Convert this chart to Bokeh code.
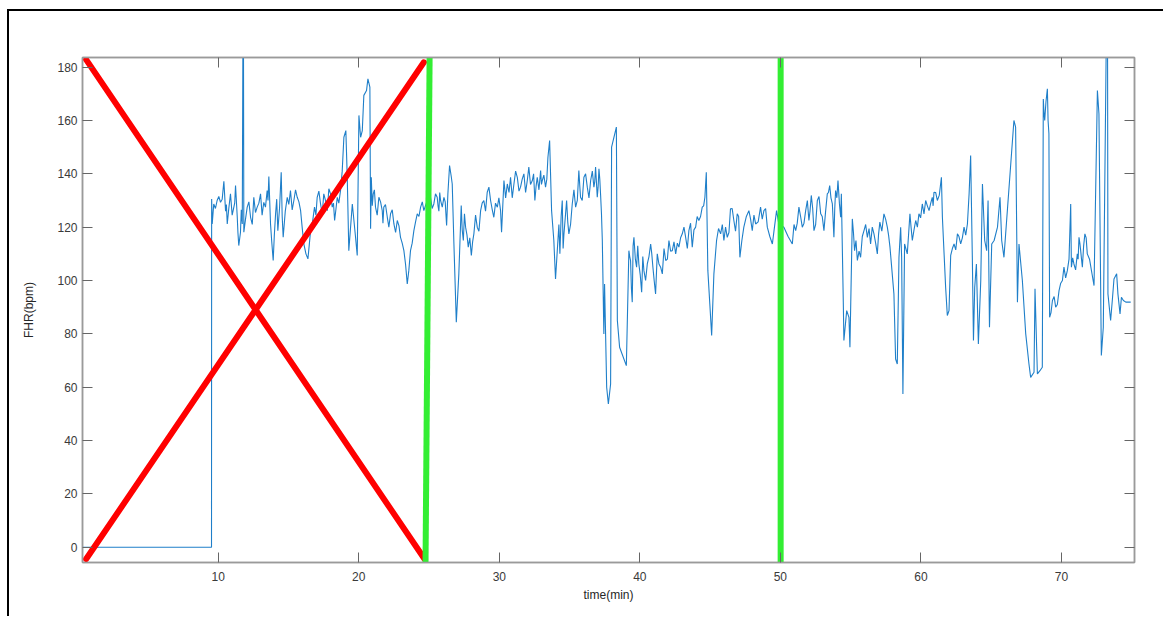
from bokeh.plotting import figure
from bokeh.layouts import column
from bokeh.models import LinearAxis, FixedTicker, Range1d
from bokeh.embed import file_html
from bokeh.resources import INLINE

# ---- data ----
# main turning points of the FHR trace
t_main = [0.35, 9.52, 9.53, 9.57, 9.68, 9.92, 10.16, 10.40, 10.52, 10.64, 10.87, 11.11, 11.23, 11.35, 11.46,
          11.58, 11.71, 11.78, 11.82, 12.06, 12.30, 12.53, 12.77, 13.01, 13.24, 13.48, 13.60, 13.72, 13.91,
          14.08, 14.24, 14.48, 14.62, 14.91, 15.14, 15.38, 15.62, 15.86, 16.09, 16.38, 16.57, 16.85, 17.04,
          17.28, 17.51, 17.76, 17.87, 18.11, 18.28, 18.47, 18.70, 18.94, 19.08, 19.18, 19.29, 19.54, 19.77,
          19.89, 20.01, 20.13, 20.25, 20.36, 20.55, 20.65, 20.79, 20.84, 20.89, 21.03, 21.19, 21.43, 21.67,
          21.78, 22.03, 22.26, 22.50, 22.74, 22.97, 23.21, 23.45, 23.56, 23.68, 23.92, 24.16, 24.40, 24.63,
          24.87, 25.11, 25.34, 25.58, 25.70, 25.82, 26.06, 26.25, 26.34, 26.46, 26.58, 26.65, 26.77, 26.94,
          27.12, 27.29, 27.44, 27.60, 27.79, 28.01, 28.19, 28.43, 28.67, 28.90, 29.14, 29.38, 29.61, 29.86,
          30.09, 30.16, 30.33, 30.57, 30.80, 31.04, 31.28, 31.51, 31.75, 31.99, 32.10, 32.35, 32.53, 32.70,
          32.94, 33.06, 33.29, 33.46, 33.58, 33.72, 33.88, 34.00, 34.17, 34.31, 34.48, 34.60, 34.79, 34.95,
          35.19, 35.43, 35.66, 35.78, 36.02, 36.26, 36.50, 36.73, 36.85, 36.97, 37.09, 37.21, 37.33, 37.44,
          37.49, 37.64, 37.76, 37.92, 37.99, 38.33, 38.40, 38.56, 39.04, 39.22, 39.34, 39.46, 39.58, 39.77,
          39.93, 40.13, 40.29, 40.53, 40.77, 40.93, 41.12, 41.36, 41.60, 41.84, 42.07, 42.31, 42.55, 42.78,
          43.02, 43.26, 43.49, 43.73, 43.97, 44.20, 44.44, 44.63, 44.73, 44.84, 44.98, 45.11, 45.27, 45.46,
          45.75, 45.98, 46.22, 46.45, 46.69, 46.93, 47.12, 47.40, 47.76, 48.00, 48.24, 48.59, 48.83, 49.07,
          49.43, 49.73, 49.89, 50.25, 50.85, 51.09, 51.32, 51.56, 51.80, 52.03, 52.20, 52.39, 52.63, 52.87,
          53.10, 53.34, 53.51, 53.70, 53.81, 53.93, 54.10, 54.29, 54.34, 54.48, 54.52, 54.72, 54.88, 54.95,
          55.12, 55.28, 55.48, 55.71, 55.95, 56.19, 56.42, 56.66, 56.90, 57.08, 57.37, 57.61, 57.80, 58.08,
          58.20, 58.32, 58.44, 58.56, 58.63, 58.72, 58.84, 59.03, 59.22, 59.39, 59.63, 59.86, 60.10, 60.34,
          60.58, 60.81, 60.93, 61.17, 61.46, 61.53, 61.76, 61.88, 62.00, 62.12, 62.36, 62.60, 62.83, 63.07,
          63.31, 63.43, 63.54, 63.66, 63.74, 63.83, 63.95, 64.09, 64.26, 64.38, 64.54, 64.68, 64.78, 64.88,
          65.04, 65.21, 65.45, 65.63, 65.75, 65.91, 66.62, 66.74, 66.87, 66.98, 67.22, 67.46, 67.69, 67.81,
          68.05, 68.12, 68.29, 68.47, 68.64, 68.71, 68.81, 69.00, 69.11, 69.16, 69.36, 69.59, 69.83, 70.07,
          70.18, 70.42, 70.66, 70.71, 70.89, 71.13, 71.25, 71.37, 71.49, 71.67, 71.84, 72.32, 72.56, 72.67,
          72.84, 72.98, 73.27, 73.31, 73.50, 73.62, 73.74, 73.93, 74.02, 74.17, 74.27, 74.41, 74.58, 74.93]

fhr_main = [0, 0, 130.6, 121.2, 128.7, 130.0, 129.3, 137.2, 126.0, 121.2, 132.5, 127.5, 135.6, 124.0, 113.1,
            118.0, 121.2, 230.0, 118.1, 127.5, 123.7, 131.2, 127.5, 132.5, 129.3, 133.7, 139.0, 121.2, 107.5,
            125.0, 118.7, 140.6, 116.2, 131.2, 133.7, 130.0, 131.2, 126.2, 113.7, 108.1, 118.7, 127.5, 131.2,
            128.7, 132.5, 126.2, 134.4, 127.5, 122.5, 131.2, 133.7, 153.7, 156.2, 138.7, 111.2, 128.7, 116.2,
            109.4, 161.9, 153.7, 156.2, 169.4, 171.2, 175.6, 172.5, 119.4, 138.7, 132.5, 127.5, 131.2, 126.2,
            127.5, 123.7, 125.0, 121.2, 122.5, 116.2, 111.2, 98.7, 103.7, 111.2, 118.7, 125.0, 127.5, 126.2,
            130.0, 131.2, 128.7, 131.2, 126.0, 130.0, 131.2, 120.6, 132.5, 143.1, 139.0, 136.2, 113.7, 84.4,
            102.5, 128.1, 115.0, 120.0, 112.5, 109.4, 117.5, 120.0, 126.2, 130.0, 133.1, 130.0, 123.7, 127.5,
            126.2, 118.1, 137.5, 136.2, 138.7, 136.2, 138.7, 135.0, 140.0, 137.5, 142.5, 137.5, 130.0, 138.7,
            141.2, 137.5, 135.0, 146.2, 152.5, 126.2, 115.0, 100.6, 115.0, 110.0, 130.0, 117.5, 130.0, 117.5,
            128.7, 127.5, 141.2, 131.2, 138.7, 135.0, 137.5, 135.0, 142.5, 131.2, 141.9, 131.9, 115.0, 80.0,
            98.7, 60.0, 53.7, 61.2, 150.0, 157.5, 85.0, 75.0, 68.1, 111.2, 107.5, 91.9, 116.2, 105.0,
            106.2, 95.6, 103.7, 106.2, 113.7, 105.0, 95.0, 106.2, 102.5, 107.5, 115.0, 111.2, 110.0, 112.5,
            117.5, 116.2, 118.7, 112.5, 120.0, 122.5, 127.5, 131.2, 140.6, 103.7, 91.2, 79.4, 102.5, 115.0,
            117.5, 115.0, 116.2, 126.9, 122.5, 125.0, 108.7, 120.0, 126.2, 118.7, 121.2, 127.5, 126.2, 120.0,
            113.7, 126.2, 121.2, 120.0, 113.7, 118.7, 127.5, 120.0, 126.2, 122.5, 131.9, 118.7, 130.0, 125.0,
            118.7, 132.5, 135.6, 128.7, 116.2, 133.7, 137.5, 123.7, 132.5, 91.2, 77.5, 88.7, 86.2, 75.0,
            123.1, 111.2, 107.5, 108.7, 118.7, 116.2, 113.7, 117.5, 110.0, 121.9, 125.0, 120.0, 112.5, 95.0,
            70.6, 68.7, 108.7, 120.0, 108.7, 57.5, 113.7, 110.0, 125.0, 115.0, 122.5, 125.0, 128.7, 130.0,
            126.2, 131.2, 133.1, 130.0, 138.7, 123.7, 97.5, 86.9, 88.7, 109.4, 113.7, 117.5, 113.7, 120.0,
            121.2, 132.5, 146.9, 108.7, 77.5, 97.5, 106.2, 76.2, 100.0, 136.2, 115.0, 111.2, 130.0, 82.5,
            113.7, 115.0, 120.0, 131.2, 115.0, 108.7, 160.0, 157.5, 91.9, 113.7, 100.0, 80.0, 68.7, 63.7,
            65.6, 96.9, 65.0, 66.2, 67.5, 168.0, 160.0, 171.9, 155.0, 86.2, 92.5, 90.0, 96.2, 100.0,
            105.0, 103.7, 128.7, 105.0, 106.2, 110.0, 116.2, 111.2, 105.0, 117.5, 110.0, 98.1, 171.2, 162.5,
            71.9, 82.5, 230.0, 95.0, 85.0, 92.5, 100.6, 102.5, 95.0, 87.5, 93.7, 92.5, 91.9, 91.9]

# extra beat-to-beat jitter readings in the noisy stretches
t_detail = [9.80, 10.04, 10.28, 10.58, 10.75, 10.99, 11.17, 11.40, 11.64,
            11.94, 12.18, 12.42, 12.65, 12.89, 13.12, 13.36, 13.54, 13.80, 13.99, 14.16, 14.36, 14.55, 14.77,
            15.02, 15.26, 15.50, 15.74, 15.97,
            16.24, 16.47, 16.71, 16.95, 17.16, 17.40, 17.63, 17.99, 18.20, 18.38, 18.58, 18.82,
            20.96, 21.11, 21.31, 21.55, 21.72, 21.90, 22.14, 22.38, 22.62, 22.86, 23.09, 23.33, 23.80, 24.04,
            24.28, 24.52,
            24.99, 25.22, 25.46, 25.64, 25.76, 25.94, 26.15,
            27.36, 27.52, 27.70, 27.90, 28.10, 28.31, 28.55, 28.78, 29.02, 29.26, 29.50, 29.73, 29.97,
            30.45, 30.69, 30.92, 31.16, 31.40, 31.63, 31.87, 32.22, 32.44, 32.62, 32.82, 33.00, 33.17, 33.38,
            34.24, 34.40, 34.54, 34.70, 34.87, 35.07, 35.31, 35.55, 35.72, 35.90, 36.14, 36.38, 36.62, 36.79,
            36.91, 37.03, 37.15, 37.27,
            39.28, 39.40, 39.52, 39.68, 39.85, 40.03, 40.21, 40.41, 40.65, 40.85, 41.02, 41.24, 41.48, 41.72,
            41.96, 42.19, 42.43, 42.67, 42.90, 43.14, 43.38, 43.61, 43.85, 44.08, 44.32, 44.54,
            45.60, 45.87, 46.10, 46.34, 46.57, 46.81, 47.03, 47.26, 47.58, 47.88, 48.12, 48.42, 48.71, 48.95,
            49.25, 49.58,
            50.55, 50.97, 51.20, 51.44, 51.68, 51.92, 52.11, 52.30, 52.51, 52.75, 52.98, 53.22, 53.42, 53.60,
            53.87, 54.02, 54.20,
            55.20, 55.38, 55.60, 55.83, 56.07, 56.31, 56.54, 56.78, 56.99, 57.22, 57.49, 57.70,
            59.12, 59.30, 59.51, 59.75, 59.98, 60.22, 60.46, 60.70, 60.87, 61.05, 61.31,
            62.24, 62.48, 62.71, 62.95, 63.19,
            68.76, 68.90, 69.05, 69.26, 69.48, 69.71, 69.95,
            70.30, 70.54, 70.80, 71.01, 71.19, 71.31, 71.43, 71.58, 71.76, 72.00, 72.16]

fhr_detail = [127.0, 131.5, 130.5, 128.5, 127.0, 124.5, 129.0, 118.0, 126.5,
              123.0, 129.5, 121.0, 125.5, 129.0, 124.5, 127.5, 130.0, 115.0, 117.0, 130.5, 127.0, 124.0, 126.0,
              128.5, 126.5, 134.0, 129.5, 120.0,
              110.0, 113.0, 122.0, 124.5, 133.5, 125.0, 130.0, 132.5, 129.0, 127.0, 129.0, 141.0,
              128.0, 134.0, 124.5, 129.5, 121.5, 128.5, 120.0, 126.5, 118.0, 120.5, 114.0, 106.0, 114.0, 122.0,
              124.0, 129.5,
              127.5, 127.0, 132.5, 128.0, 133.0, 127.5, 129.5,
              119.0, 125.0, 117.0, 116.0, 114.5, 124.5, 118.5, 129.0, 126.0, 135.0, 126.5, 129.0, 131.0,
              131.0, 133.0, 131.0, 141.0, 133.5, 138.0, 133.0, 136.0, 140.0, 135.5, 134.0, 136.0, 139.5, 138.0,
              121.0, 124.0, 112.0, 124.0, 122.0, 121.0, 134.0, 130.0, 136.0, 130.0, 140.0, 131.0, 141.0, 137.0,
              137.0, 135.0, 138.0, 125.0,
              109.0, 97.0, 113.0, 108.0, 113.0, 102.0, 109.0, 100.0, 109.0, 110.0, 100.0, 110.0, 105.0, 112.0,
              108.0, 111.0, 114.5, 114.0, 116.0, 120.0, 112.0, 121.5, 119.0, 124.0, 124.0, 128.0,
              119.5, 121.0, 120.0, 118.0, 127.0, 118.5, 124.0, 115.0, 124.0, 123.0, 124.5, 122.0, 123.0, 127.0,
              116.5, 120.0,
              116.5, 121.0, 121.5, 124.0, 121.5, 130.0, 126.0, 127.0, 121.0, 131.5, 124.0, 126.0, 133.0, 131.0,
              127.0, 131.0, 129.0,
              118.0, 115.0, 111.0, 116.5, 121.0, 119.5, 120.0, 114.0, 117.5, 118.5, 123.0, 117.0,
              117.0, 120.0, 119.0, 120.0, 123.5, 125.0, 128.0, 129.0, 128.0, 133.0, 132.0,
              112.0, 111.5, 116.5, 116.0, 117.0,
              163.0, 167.0, 160.0, 88.0, 94.0, 91.0, 99.0,
              101.0, 108.0, 108.5, 104.0, 108.0, 114.0, 108.0, 113.0, 116.0, 108.0, 103.0]

# annotation marks (red cross over the discarded start, green segment borders)
cross_a_t = [0.6, 24.68]
cross_a_y = [182.8, -4.4]
cross_b_t = [0.6, 24.63]
cross_b_y = [-4.4, 181.8]
green1_t = [25.04, 24.75]
green1_y = [183.6, -5.7]
green2_t = [50.02, 50.02]
green2_y = [183.6, -5.7]

x_ticks = [10, 20, 30, 40, 50, 60, 70]
y_ticks = [0, 20, 40, 60, 80, 100, 120, 140, 160, 180]

pairs = sorted(zip(t_main + t_detail, fhr_main + fhr_detail))
trace_t = [a for a, b in pairs]
trace_y = [b for a, b in pairs]

FONT = "Liberation Sans"
AX = "#9a9a9a"

p = figure(frame_width=1052, frame_height=505,
           x_range=Range1d(0.34, 75.2), y_range=Range1d(-5.7, 183.6),
           output_backend="svg", toolbar_location=None,
           min_border_left=73, min_border_right=29, min_border_top=46, min_border_bottom=54)
p.grid.visible = False
p.outline_line_color = AX
p.outline_line_width = 1.5
p.background_fill_color = "white"
p.border_fill_color = "white"

p.add_layout(LinearAxis(), "above")
p.add_layout(LinearAxis(), "right")

for ax in p.xaxis:
    ax.ticker = FixedTicker(ticks=x_ticks)
for ax in p.yaxis:
    ax.ticker = FixedTicker(ticks=y_ticks)

for ax in p.xaxis + p.yaxis:
    ax.axis_line_color = AX
    ax.axis_line_width = 1.5
    ax.major_tick_in = 10
    ax.major_tick_out = 0
    ax.minor_tick_in = 0
    ax.minor_tick_out = 0
    ax.major_tick_line_color = "#666666"
    ax.major_tick_line_width = 1
    ax.major_label_text_font = FONT
    ax.major_label_text_font_size = "12px"
    ax.major_label_text_color = "#3a3a3a"

for ax in (p.above[0], p.right[0]):
    ax.major_label_text_alpha = 0

xb = p.below[0]
xb.axis_label = "time(min)"
xb.major_label_standoff = 9
xb.axis_label_standoff = 4
yl = p.left[0]
yl.axis_label = "FHR(bpm)"
yl.major_label_standoff = 5
yl.axis_label_standoff = 18
for ax in (xb, yl):
    ax.axis_label_text_font = FONT
    ax.axis_label_text_font_size = "12px"
    ax.axis_label_text_font_style = "normal"
    ax.axis_label_text_color = "#262626"

p.line(trace_t, trace_y, line_color="#1f7fc9", line_width=1.1)

p.line(cross_a_t, cross_a_y, line_color="#ff0000", line_width=6, line_cap="round")
p.line(cross_b_t, cross_b_y, line_color="#ff0000", line_width=6, line_cap="round")
p.line(green1_t, green1_y, line_color="#33ee33", line_width=6)
p.line(green2_t, green2_y, line_color="#33ee33", line_width=6)

# outer picture frame: left and top edges only
page = column(p, styles={"margin-left": "7px", "margin-top": "9px",
                         "border-left": "2px solid #000000", "border-top": "2px solid #000000"})

open("out.html", "w").write(file_html(page, INLINE))
